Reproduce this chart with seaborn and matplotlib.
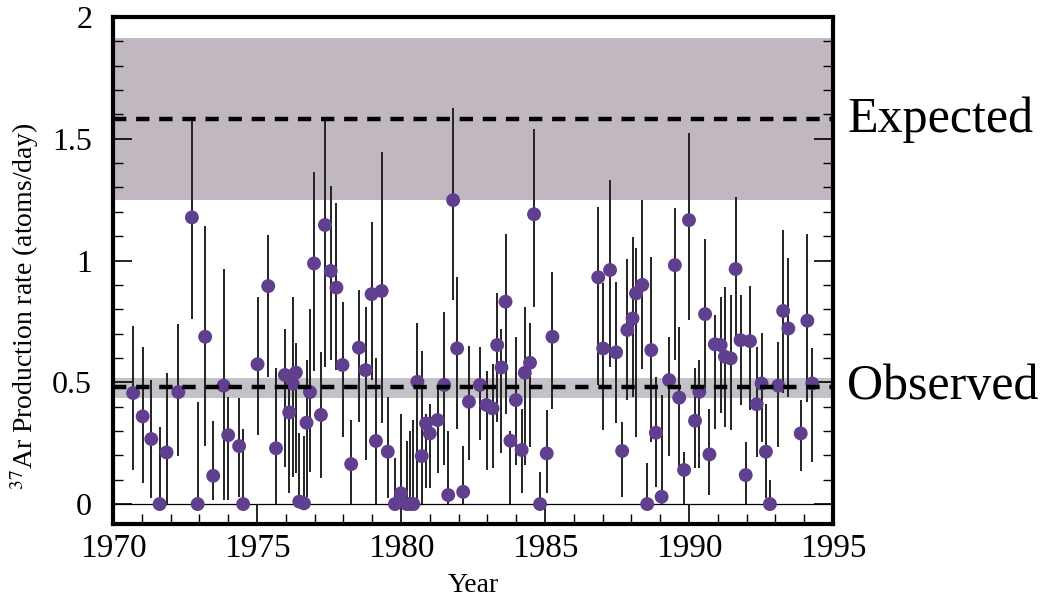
import numpy as np
import pandas as pd
import matplotlib
matplotlib.use("Agg")
import matplotlib.pyplot as plt
from matplotlib.ticker import MultipleLocator
import seaborn as sns

# ---- data ----
years = [1970.7, 1971.03, 1971.33, 1971.62, 1971.86, 1972.27, 1972.74, 1972.94, 1973.2, 1973.48,
         1973.84, 1974.0, 1974.38, 1974.52, 1975.02, 1975.39, 1975.66, 1975.97, 1976.12, 1976.24,
         1976.35, 1976.47, 1976.63, 1976.72, 1976.84, 1976.98, 1977.22, 1977.36, 1977.56, 1977.76,
         1977.97, 1978.27, 1978.54, 1978.77, 1978.98, 1979.13, 1979.33, 1979.54, 1979.79, 1980.0,
         1980.2, 1980.33, 1980.43, 1980.57, 1980.72, 1980.87, 1981.0, 1981.27, 1981.5, 1981.64,
         1981.81, 1981.95, 1982.16, 1982.36, 1982.74, 1982.97, 1983.18, 1983.34, 1983.49, 1983.63,
         1983.8, 1983.99, 1984.19, 1984.3, 1984.48, 1984.62, 1984.83, 1985.06, 1985.26, 1986.85,
         1987.02, 1987.26, 1987.47, 1987.68, 1987.86, 1988.04, 1988.16, 1988.38, 1988.55, 1988.69,
         1988.85, 1989.05, 1989.31, 1989.51, 1989.66, 1989.83, 1990.0, 1990.21, 1990.36, 1990.56,
         1990.71, 1990.9, 1991.1, 1991.25, 1991.45, 1991.62, 1991.79, 1991.97, 1992.12, 1992.35,
         1992.52, 1992.67, 1992.81, 1993.1, 1993.27, 1993.45, 1993.88, 1994.11, 1994.28]
rate = [0.456, 0.36, 0.267, 0.0, 0.212, 0.46, 1.177, 0.0, 0.687, 0.116,
        0.486, 0.283, 0.238, 0.0, 0.574, 0.895, 0.229, 0.53, 0.376, 0.495,
        0.54, 0.01, 0.003, 0.334, 0.46, 0.988, 0.366, 1.146, 0.957, 0.889,
        0.571, 0.164, 0.642, 0.55, 0.862, 0.259, 0.875, 0.215, 0.0, 0.044,
        0.0, 0.0, 0.0, 0.502, 0.197, 0.331, 0.29, 0.345, 0.489, 0.037,
        1.248, 0.639, 0.05, 0.42, 0.489, 0.407, 0.393, 0.653, 0.561, 0.831,
        0.26, 0.427, 0.222, 0.539, 0.58, 1.19, 0.0, 0.208, 0.687, 0.931,
        0.639, 0.961, 0.623, 0.218, 0.715, 0.762, 0.865, 0.9, 0.0, 0.632,
        0.293, 0.03, 0.509, 0.981, 0.437, 0.14, 1.166, 0.342, 0.461, 0.78,
        0.204, 0.656, 0.653, 0.605, 0.598, 0.965, 0.673, 0.119, 0.669, 0.41,
        0.495, 0.215, 0.0, 0.486, 0.793, 0.721, 0.29, 0.753, 0.495]
err_high = [0.73, 0.646, 0.51, 0.317, 0.54, 0.74, 1.585, 0.42, 1.14, 0.34,
            0.965, 0.44, 0.435, 0.31, 0.85, 1.105, 0.558, 0.72, 0.52, 0.85,
            0.66, 0.29, 0.28, 0.59, 0.8, 1.363, 0.625, 1.574, 1.306, 1.235,
            0.83, 0.345, 0.879, 0.81, 1.16, 0.6, 1.447, 0.44, 0.19, 0.37,
            0.26, 0.3, 0.345, 0.745, 0.63, 0.37, 0.41, 0.476, 0.79, 0.3,
            1.625, 0.934, 0.24, 0.65, 0.645, 0.546, 0.575, 0.868, 0.72, 1.11,
            0.3, 0.687, 0.39, 0.81, 0.745, 1.54, 0.13, 0.386, 0.954, 1.22,
            0.906, 1.33, 0.913, 0.338, 1.006, 1.096, 1.05, 1.25, 0.17, 1.014,
            0.522, 0.447, 0.687, 1.214, 0.728, 0.215, 1.522, 0.558, 0.59, 1.09,
            0.39, 0.776, 0.85, 0.89, 0.858, 1.26, 0.858, 0.256, 0.895, 0.646,
            0.703, 0.41, 0.1, 0.667, 1.125, 1.009, 0.427, 1.109, 0.64]
err_low = [0.14, 0.085, 0.026, 0.0, 0.0, 0.197, 0.76, 0.0, 0.238, 0.016,
           0.016, 0.016, 0.03, 0.0, 0.283, 0.523, 0.0, 0.153, 0.045, 0.11,
           0.126, 0.0, 0.0, 0.03, 0.13, 0.545, 0.107, 0.564, 0.59, 0.55,
           0.276, 0.0, 0.338, 0.18, 0.51, 0.0, 0.333, 0.024, 0.0, 0.0,
           0.0, 0.0, 0.0, 0.0, 0.0, 0.065, 0.065, 0.127, 0.16, 0.0,
           0.838, 0.31, 0.0, 0.18, 0.263, 0.14, 0.148, 0.338, 0.208, 0.37,
           0.0, 0.16, 0.045, 0.16, 0.235, 0.81, 0.0, 0.044, 0.389, 0.489,
           0.304, 0.564, 0.331, 0.03, 0.427, 0.44, 0.276, 0.553, 0.0, 0.256,
           0.07, 0.0, 0.197, 0.591, 0.153, 0.0, 0.756, 0.148, 0.148, 0.47,
           0.037, 0.31, 0.372, 0.317, 0.304, 0.667, 0.407, 0.0, 0.386, 0.192,
           0.256, 0.023, 0.0, 0.235, 0.455, 0.44, 0.137, 0.42, 0.174]

expected_rate = 1.58
expected_band = (1.248, 1.914)
observed_rate = 0.48
observed_band = (0.435, 0.517)

x_ticks = [1970, 1975, 1980, 1985, 1990, 1995]
y_ticks = [0, 0.5, 1, 1.5, 2]
y_tick_labels = ["0", "0.5", "1", "1.5", "2"]

df = pd.DataFrame({"year": years, "rate": rate, "hi": err_high, "lo": err_low})

# ---- styling ----
sns.set_style("ticks")
plt.rcParams["font.family"] = ["Liberation Serif", "DejaVu Serif"]
plt.rcParams["mathtext.fontset"] = "stix"
plt.rcParams["text.color"] = "black"
plt.rcParams["axes.labelcolor"] = "black"
plt.rcParams["xtick.color"] = "black"
plt.rcParams["ytick.color"] = "black"

fig = plt.figure(figsize=(10.52, 5.98), dpi=100)
ax = fig.add_axes([0.1074, 0.1237, 0.6844, 0.8479])

purple = "#5f3f8e"

# bands
ax.axhspan(*expected_band, color="#c0b7c1", zorder=0, lw=0)
ax.axhspan(*observed_band, color="#c3c2c9", zorder=0, lw=0)
ax.axhline(0, color="black", lw=0.9, zorder=1)

# error bars
yerr = np.vstack([df["rate"] - df["lo"], df["hi"] - df["rate"]])
ax.errorbar(df["year"], df["rate"], yerr=yerr, fmt="none", ecolor="#222222",
            elinewidth=1.4, capsize=0, zorder=2)

sns.scatterplot(data=df, x="year", y="rate", ax=ax, color=purple, s=100,
                edgecolor="none", zorder=3, legend=False)

# reference lines
ax.axhline(expected_rate, color="black", lw=3.2, ls=(0, (3, 2.2)), zorder=4)
ax.axhline(observed_rate, color="black", lw=3.2, ls=(0, (3, 2.2)), zorder=4)

ax.set_xlim(1970, 1995)
ax.set_ylim(-0.082, 2.0)
ax.set_xticks(x_ticks)
ax.set_xticklabels([str(v) for v in x_ticks], fontsize=24)
ax.set_yticks(y_ticks)
ax.set_yticklabels(y_tick_labels, fontsize=23)
ax.xaxis.set_minor_locator(MultipleLocator(1))
ax.yaxis.set_minor_locator(MultipleLocator(0.1))
ax.tick_params(which="major", direction="in", length=14, width=1.2,
               left=True, right=True, bottom=True, top=False)
ax.tick_params(axis="x", which="major", pad=7)
ax.tick_params(axis="y", which="major", pad=15)
ax.tick_params(which="minor", direction="in", length=7, width=1.0,
               left=True, right=True, bottom=True, top=False)
for s in ax.spines.values():
    s.set_linewidth(3)
    s.set_color("black")

ax.set_xlabel("Year", fontsize=20)
ax.xaxis.set_label_coords(0.5, -0.097)
ax.set_ylabel(r"$^{37}$Ar Production rate (atoms/day)", fontsize=20)
ax.yaxis.set_label_coords(-0.1, 0.43)

ax.text(1.02, (expected_rate + 0.082) / 2.082, "Expected", transform=ax.transAxes,
        fontsize=36, va="center", ha="left")
ax.text(1.02, (observed_rate + 0.082) / 2.082, "Observed", transform=ax.transAxes,
        fontsize=36, va="center", ha="left")

fig.savefig("out.png", dpi=100)
